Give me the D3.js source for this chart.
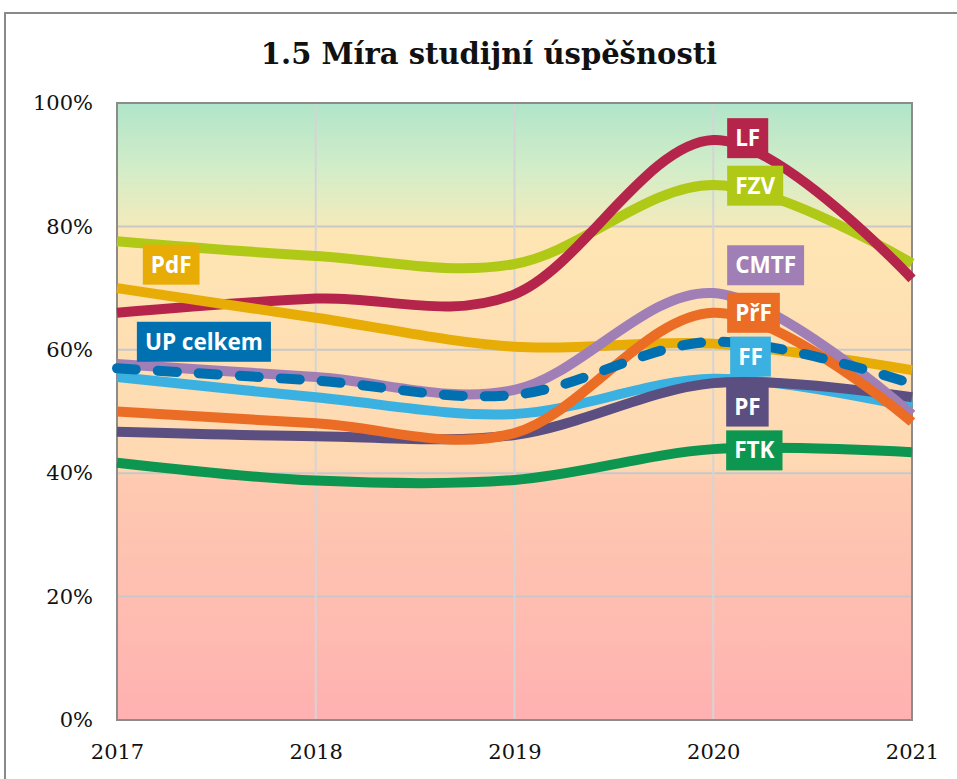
<!DOCTYPE html>
<html>
<head>
<meta charset="utf-8">
<script src="https://cdn.jsdelivr.net/npm/d3@7"></script>
<style>
  body { margin: 0; background: #fff; }
  svg { display: block; }
</style>
</head>
<body>
<div id="chart"></div>
<script>
// Data (percent)
const years = [2017, 2018, 2019, 2020, 2021];
const yTicks = [0, 20, 40, 60, 80, 100];

const seriesNames = ["FZV", "LF", "PdF", "FTK", "FF", "PF", "CMTF", "PřF", "UP celkem"];
const seriesColors = ["#afc916", "#b5254b", "#e8ac06", "#0c9650", "#3ab1e1", "#5a4f80", "#a07fb7", "#ea6c25", "#0070b0"];
const fzv = [77.6, 75.2, 73.9, 86.7, 74.0];
const lf = [66.0, 68.3, 69.0, 94.0, 71.5];
const pdf = [70.0, 65.2, 60.5, 61.0, 56.7];
const ftk = [41.7, 38.8, 38.9, 43.9, 43.4];
const ff = [55.6, 52.3, 49.6, 55.3, 50.7];
const pf = [46.7, 46.0, 46.2, 54.6, 52.3];
const cmtf = [57.7, 55.6, 53.5, 69.2, 49.5];
const prf = [50.0, 48.1, 46.5, 66.0, 48.3];
const upCelkem = [57.0, 55.0, 52.7, 61.3, 54.5];
const seriesValues = [fzv, lf, pdf, ftk, ff, pf, cmtf, prf, upCelkem];

// label boxes: anchor in data units (year of left edge, percent of centre)
const labelNames = ["LF", "FZV", "CMTF", "PřF", "FF", "PF", "FTK", "PdF", "UP celkem"];
const labelYears = [2020.07, 2020.07, 2020.07, 2020.07, 2020.085, 2020.065, 2020.065, 2017.13, 2017.1];
const labelValues = [94.3, 86.6, 73.7, 66.0, 58.9, 50.8, 43.7, 73.8, 61.3];

const width = 957, height = 779;
const margin = { top: 103, right: 45, bottom: 59, left: 117 };

const svg = d3.select("#chart").append("svg").attr("width", width).attr("height", height);

// outer chart frame (cut off by the window on right and bottom)
svg.append("rect").attr("x", 5).attr("y", 13).attr("width", 1000).attr("height", 1000)
  .attr("fill", "#fff").attr("stroke", "#898989").attr("stroke-width", 2);

const x = d3.scaleLinear().domain([2017, 2021]).range([margin.left, width - margin.right]);
const y = d3.scaleLinear().domain([0, 100]).range([height - margin.bottom, margin.top]);

// background bands
const defs = svg.append("defs");
const gTop = defs.append("linearGradient").attr("id", "bg-top").attr("x1", 0).attr("y1", 0).attr("x2", 0).attr("y2", 1);
gTop.append("stop").attr("offset", "0%").attr("stop-color", "#b0e5c9");
gTop.append("stop").attr("offset", "55%").attr("stop-color", "#d4edc8");
gTop.append("stop").attr("offset", "100%").attr("stop-color", "#f3eabb");
const gBot = defs.append("linearGradient").attr("id", "bg-bot").attr("x1", 0).attr("y1", 0).attr("x2", 0).attr("y2", 1);
gBot.append("stop").attr("offset", "0%").attr("stop-color", "#fee6b4");
gBot.append("stop").attr("offset", "49%").attr("stop-color", "#fed8b2");
gBot.append("stop").attr("offset", "51%").attr("stop-color", "#fecab0");
gBot.append("stop").attr("offset", "100%").attr("stop-color", "#ffb1b1");

svg.append("rect").attr("x", x(2017)).attr("y", y(100)).attr("width", x(2021) - x(2017)).attr("height", y(80) - y(100))
  .attr("fill", "url(#bg-top)");
svg.append("rect").attr("x", x(2017)).attr("y", y(80)).attr("width", x(2021) - x(2017)).attr("height", y(0) - y(80))
  .attr("fill", "url(#bg-bot)");

// gridlines
svg.append("g").selectAll("line.h").data(yTicks.slice(1, -1)).join("line")
  .attr("x1", x(2017)).attr("x2", x(2021)).attr("y1", d => y(d)).attr("y2", d => y(d))
  .attr("stroke", "#c8c8c8").attr("stroke-width", 2);
svg.append("g").selectAll("line.v").data(years.slice(1, -1)).join("line")
  .attr("x1", d => x(d)).attr("x2", d => x(d)).attr("y1", y(100)).attr("y2", y(0))
  .attr("stroke", "#d4d4d4").attr("stroke-width", 2);

// plot border
svg.append("rect").attr("x", x(2017)).attr("y", y(100)).attr("width", x(2021) - x(2017)).attr("height", y(0) - y(100))
  .attr("fill", "none").attr("stroke", "#8c8c8c").attr("stroke-width", 2);

// axes
const yAxis = svg.append("g").attr("transform", `translate(${x(2017)},0)`)
  .call(d3.axisLeft(y).tickValues(yTicks).tickFormat(d => d + "%").tickSize(0).tickPadding(24));
const xAxis = svg.append("g").attr("transform", `translate(0,${y(0)})`)
  .call(d3.axisBottom(x).tickValues(years).tickFormat(d3.format("d")).tickSize(0).tickPadding(24));
[yAxis, xAxis].forEach(a => {
  a.select(".domain").remove();
  a.selectAll("text").attr("font-family", "'DejaVu Serif', serif").attr("font-size", 21).attr("fill", "#111");
});

// title
svg.append("text").attr("x", 489).attr("y", 64).attr("text-anchor", "middle")
  .attr("font-family", "'DejaVu Serif', serif").attr("font-weight", "bold").attr("font-size", 29)
  .attr("fill", "#111").text("1.5 Míra studijní úspěšnosti");

// lines
const line = d3.line().x((d, i) => x(years[i])).y(d => y(d)).curve(d3.curveCatmullRom.alpha(0));
seriesNames.forEach((name, k) => {
  const dashed = name === "UP celkem";
  svg.append("path").datum(seriesValues[k])
    .attr("d", line).attr("fill", "none")
    .attr("stroke", seriesColors[k]).attr("stroke-width", 10)
    .attr("stroke-linecap", dashed ? "round" : "butt")
    .attr("stroke-dasharray", dashed ? "19,22" : null);
});

// labels
labelNames.forEach((name, i) => {
  const color = seriesColors[seriesNames.indexOf(name)];
  const g = svg.append("g").attr("transform", `translate(${x(labelYears[i])},${y(labelValues[i])})`);
  const rect = g.append("rect").attr("fill", color);
  const t = g.append("text").attr("x", 8).attr("dy", "0.36em")
    .attr("font-family", "'Open Sans', sans-serif").attr("font-weight", "bold").attr("font-size", 22.5)
    .attr("fill", "#fff").text(name);
  const w = t.node().getComputedTextLength();
  rect.attr("x", 0).attr("y", -20).attr("width", w + 16).attr("height", 40);
});
</script>
</body>
</html>
